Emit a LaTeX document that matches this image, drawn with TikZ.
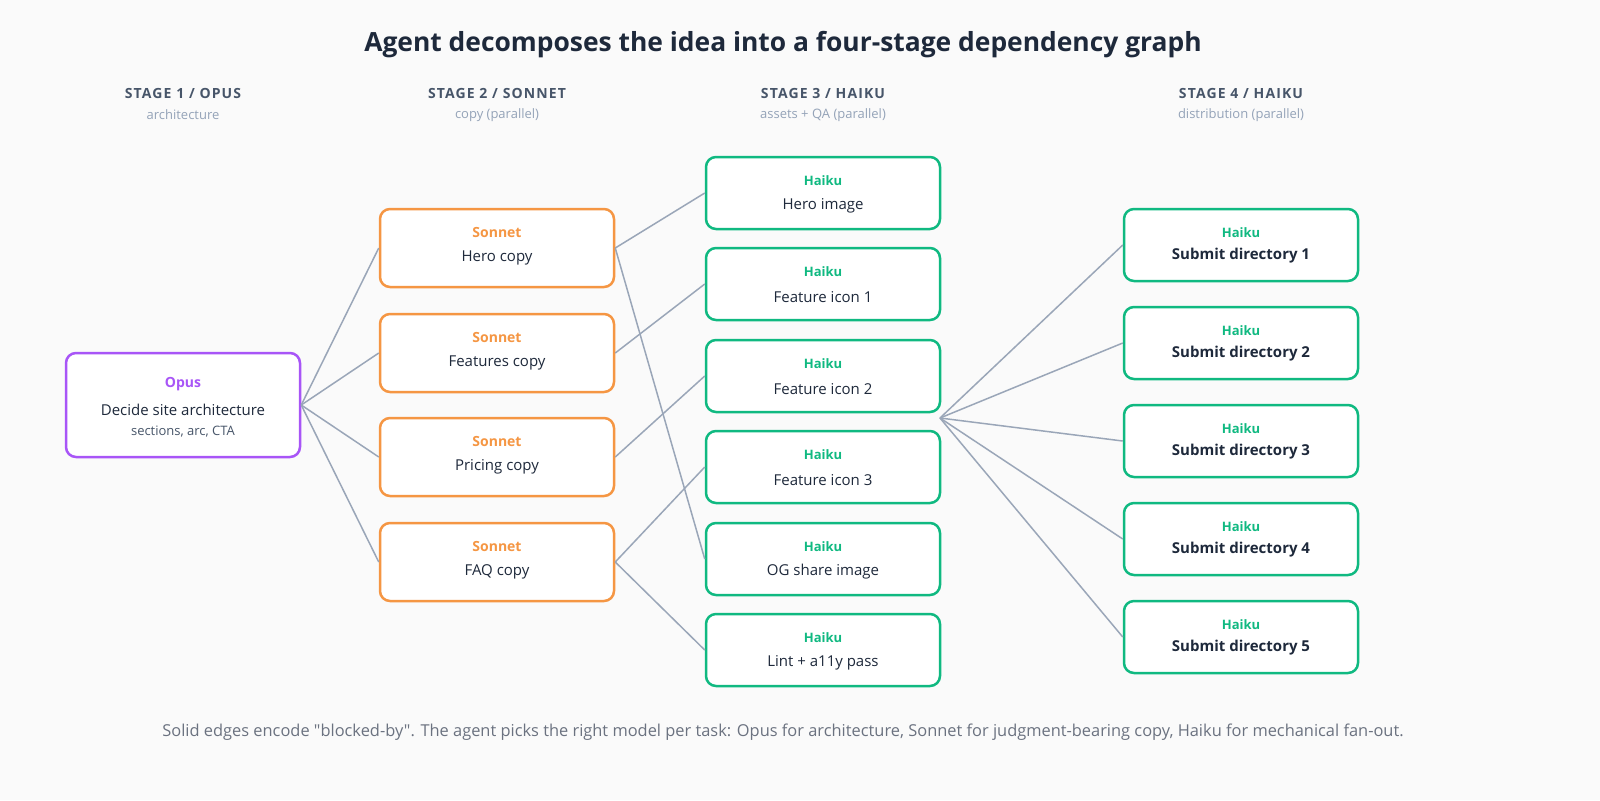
\documentclass[tikz,border=0pt]{standalone}
\usepackage{fontspec}
\setmainfont[Ligatures=TeXOff]{Open Sans}
\definecolor{bg}{HTML}{FAFAFA}
\definecolor{edge}{HTML}{9AA6B8}
\definecolor{opus}{HTML}{A855F7}
\definecolor{son}{HTML}{F59643}
\definecolor{hai}{HTML}{10B981}
\definecolor{hdr}{HTML}{475569}
\definecolor{sub}{HTML}{94A3B8}
\definecolor{txt}{HTML}{1E293B}
\definecolor{foot}{HTML}{6B7280}
\newcommand{\fs}[1]{\fontsize{#1}{#1}\selectfont}
\begin{document}
\begin{tikzpicture}[x=0.5pt,y=-0.5pt,
 box/.style={draw=#1,line width=1.25pt,rounded corners=5pt,fill=white,minimum width=117pt,inner sep=0pt},
 e/.style={draw=edge,line width=0.75pt},
 hd/.style={font=\fs{7}\bfseries,text=hdr},
 sb/.style={font=\fs{6.5},text=sub}]
\fill[bg] (0,0) rectangle (1600,800);
\useasboundingbox (0,0) rectangle (1600,800);
\node[font=\fs{13.2}\bfseries,text=txt] (title) at (783,45) {Agent decomposes the idea into a four-stage dependency graph};
\foreach \x/\a/\b/\n in {183/{STAGE 1 / OPUS}/architecture/s1,497/{STAGE 2 / SONNET}/copy (parallel)/s2,823/{STAGE 3 / HAIKU}/assets + QA (parallel)/s3,1241/{STAGE 4 / HAIKU}/distribution (parallel)/s4}{
 \node[hd] (\n h) at (\x,93) {\addfontfeature{LetterSpace=8}\a};
 \node[sb] (\n s) at (\x,115) {\b};}
% opus
\node[box=opus,minimum height=52pt] (op) at (183,405) {};
\node[font=\fs{7}\bfseries,text=opus] (opt) at (183,384) {Opus};
\node[font=\fs{7.5},text=txt] (opb) at (183,410) {Decide site architecture};
\node[font=\fs{6.5},text=hdr] (ops) at (183,432) {sections, arc, CTA};
% sonnet
\foreach \y/\t/\n in {248/Hero copy/sa,353/Features copy/sb,457/Pricing copy/sc,562/FAQ copy/sd}{
 \node[box=son,minimum height=39pt] (\n) at (497,\y) {};
 \node[font=\fs{7}\bfseries,text=son] (\n t) at (497,\y-16) {Sonnet};
 \node[font=\fs{7.5},text=txt] (\n b) at (497,\y+10) {\t};}
% stage 3
\foreach \y/\t/\n in {193/Hero image/ha,284/Feature icon 1/hb,376/Feature icon 2/hc,467/Feature icon 3/hd,559/OG share image/he,650/Lint + a11y pass/hf}{
 \node[box=hai,minimum height=36pt] (\n) at (823,\y) {};
 \node[font=\fs{6.5}\bfseries,text=hai] (\n t) at (823,\y-12) {Haiku};
 \node[font=\fs{7.5},text=txt] (\n b) at (823,\y+13) {\t};}
% stage 4
\foreach \y/\n in {245/1,343/2,441/3,539/4,637/5}{
 \node[box=hai,minimum height=36pt] (d\n) at (1241,\y) {};
 \node[font=\fs{6.5}\bfseries,text=hai] (d\n t) at (1241,\y-12) {Haiku};
 \node[font=\fs{7.5}\bfseries,text=txt] (d\n b) at (1241,\y+11) {Submit directory \n};}
\foreach \n in {sa,sb,sc,sd} \draw[e] (op.east) -- (\n.west);
\draw[e] (sa.east) -- (ha.west);
\draw[e] (sa.east) -- (he.west);
\draw[e] (sb.east) -- (hb.west);
\draw[e] (sc.east) -- (hc.west);
\draw[e] (sd.east) -- (hd.west);
\draw[e] (sd.east) -- (hf.west);
\coordinate (fan) at (940,418);
\foreach \n in {1,...,5} \draw[e] (fan) -- (d\n.west);
\node[font=\fs{8.2},text=foot] (foot) at (783,732) {Solid edges encode "blocked-by". The agent picks the right model per task: Opus for architecture, Sonnet for judgment-bearing copy, Haiku for mechanical fan-out.};
\end{tikzpicture}
\end{document}
